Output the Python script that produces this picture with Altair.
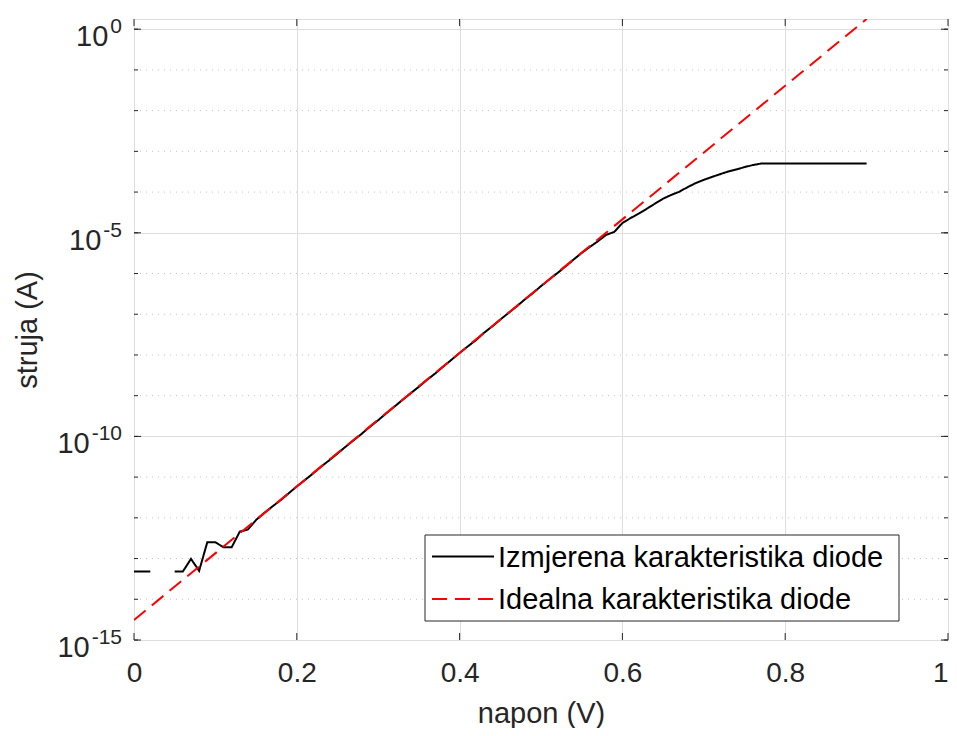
import altair as alt
import pandas as pd

# ---------------- data ----------------
voltage = [0.00, 0.01, 0.02, 0.03, 0.04, 0.05, 0.06, 0.07, 0.08, 0.09,
           0.10, 0.11, 0.12, 0.13, 0.14, 0.15, 0.16, 0.17, 0.18, 0.19,
           0.20, 0.21, 0.22, 0.23, 0.24, 0.25, 0.26, 0.27, 0.28, 0.29,
           0.30, 0.31, 0.32, 0.33, 0.34, 0.35, 0.36, 0.37, 0.38, 0.39,
           0.40, 0.41, 0.42, 0.43, 0.44, 0.45, 0.46, 0.47, 0.48, 0.49,
           0.50, 0.51, 0.52, 0.53, 0.54, 0.55, 0.56, 0.57, 0.58, 0.59,
           0.60, 0.61, 0.62, 0.63, 0.64, 0.65, 0.66, 0.67, 0.68, 0.69,
           0.70, 0.71, 0.72, 0.73, 0.74, 0.75, 0.76, 0.77, 0.78, 0.79,
           0.80, 0.81, 0.82, 0.83, 0.84, 0.85, 0.86, 0.87, 0.88, 0.89,
           0.90]
current = [4.8e-14, 4.8e-14, 4.8e-14, None, None, 4.8e-14, 4.8e-14, 9.8e-14, 5.0e-14, 2.5e-13,
           2.5e-13, 1.9e-13, 1.9e-13, 4.6e-13, 5.2e-13, 8.9e-13, 1.32e-12, 1.9e-12, 2.7e-12, 4.0e-12,
           5.9e-12, 8.5e-12, 1.23e-11, 1.82e-11, 2.6e-11, 3.8e-11, 5.6e-11, 8.1e-11, 1.17e-10, 1.74e-10,
           2.5e-10, 3.7e-10, 5.4e-10, 7.9e-10, 1.15e-9, 1.66e-9, 2.45e-9, 3.5e-9, 5.2e-9, 7.6e-9,
           1.12e-8, 1.62e-8, 2.3e-8, 3.5e-8, 5.0e-8, 7.4e-8, 1.07e-7, 1.55e-7, 2.3e-7, 3.3e-7,
           4.9e-7, 7.1e-7, 1.02e-6, 1.48e-6, 2.2e-6, 3.2e-6, 4.5e-6, 6.2e-6, 8.9e-6, 1.05e-5,
           1.74e-5, 2.3e-5, 2.95e-5, 3.9e-5, 5.2e-5, 6.9e-5, 8.5e-5, 1.02e-4, 1.32e-4, 1.66e-4,
           2.0e-4, 2.35e-4, 2.75e-4, 3.2e-4, 3.6e-4, 4.1e-4, 4.6e-4, 5.0e-4, 5.0e-4, 5.0e-4,
           5.0e-4, 5.0e-4, 5.0e-4, 5.0e-4, 5.0e-4, 5.0e-4, 5.0e-4, 5.0e-4, 5.0e-4, 5.0e-4,
           5.0e-4]
ideal_voltage = [0.0, 0.9]
ideal_current = [3.1e-15, 1.78]

series_names = ["Izmjerena karakteristika diode", "Idealna karakteristika diode"]
series_colors = ["#000000", "#ff0000"]
x_ticks = [0, 0.2, 0.4, 0.6, 0.8, 1.0]
y_major = [1e-15, 1e-10, 1e-5, 1e0]
y_major_exp = ["-15", "-10", "-5", "0"]
y_decades = [1e-15, 1e-14, 1e-13, 1e-12, 1e-11, 1e-10, 1e-9, 1e-8,
             1e-7, 1e-6, 1e-5, 1e-4, 1e-3, 1e-2, 1e-1, 1e0]
y_top = 1.78

# ---------------- tables ----------------
rows = []
seg = 0
for v, c in zip(voltage, current):
    if c is None:
        seg += 1
        continue
    rows.append({"V": v, "I": c, "series": series_names[0], "seg": f"m{seg}"})
for v, c in zip(ideal_voltage, ideal_current):
    rows.append({"V": v, "I": c, "series": series_names[1], "seg": "ideal"})
lines_df = pd.DataFrame(rows)

minor_df = pd.DataFrame({"d": [d for d in y_decades if d not in y_major]})
dec_df = pd.DataFrame({"d": y_decades})
major_df = pd.DataFrame({"d": y_major, "exp": y_major_exp})
xt_df = pd.DataFrame({"x": x_ticks})
leg_df = pd.DataFrame({"name": series_names, "row": [0, 1]})

W, H = 814, 621
FONT = "Liberation Sans"
TXT = "#262626"
DASH = [15, 8]

xs = alt.Scale(domain=[0, 1], nice=False, zero=False)
ys = alt.Scale(type="log", domain=[1e-15, y_top], nice=False)
cs = alt.Scale(domain=series_names, range=series_colors)
ds = alt.Scale(domain=series_names, range=[[1, 0], DASH])

lines = alt.Chart(lines_df).mark_line(clip=True, strokeWidth=2).encode(
    x=alt.X("V:Q", scale=xs,
            axis=alt.Axis(values=x_ticks, grid=True, gridColor="#dedede", gridWidth=1,
                          ticks=False, domain=False, format="~g",
                          labelFont=FONT, labelFontSize=28, labelColor=TXT,
                          labelAlign={"expr": "datum.value >= 1 ? 'right' : 'center'"},
                          labelPadding=19, labelOverlap=False, labelFlush=False,
                          title="napon (V)", titleFont=FONT, titleFontSize=29,
                          titleFontWeight="normal", titleColor=TXT, titlePadding=12)),
    y=alt.Y("I:Q", scale=ys,
            axis=alt.Axis(values=y_major, grid=True, gridColor="#dedede", gridWidth=1,
                          ticks=False, domain=False, labels=False,
                          title="struja (A)", titleFont=FONT, titleFontSize=29,
                          titleFontWeight="normal", titleColor=TXT, titlePadding=92)),
    color=alt.Color("series:N", scale=cs, legend=None),
    strokeDash=alt.StrokeDash("series:N", scale=ds, legend=None),
    detail="seg:N",
)

minor_grid = alt.Chart(minor_df).mark_rule(color="#c4c4c4", strokeWidth=1, strokeDash=[1, 5]).encode(
    y=alt.Y("d:Q", scale=ys), x=alt.value(0), x2=alt.value(W)
)

tick_style = dict(color=TXT, strokeWidth=1)
left_minor = alt.Chart(dec_df).mark_rule(**tick_style).encode(
    y=alt.Y("d:Q", scale=ys), x=alt.value(0), x2=alt.value(4))
right_minor = alt.Chart(dec_df).mark_rule(**tick_style).encode(
    y=alt.Y("d:Q", scale=ys), x=alt.value(W - 4), x2=alt.value(W))
left_major = alt.Chart(major_df).mark_rule(**tick_style).encode(
    y=alt.Y("d:Q", scale=ys), x=alt.value(0), x2=alt.value(7))
right_major = alt.Chart(major_df).mark_rule(**tick_style).encode(
    y=alt.Y("d:Q", scale=ys), x=alt.value(W - 7), x2=alt.value(W))
bottom_ticks = alt.Chart(xt_df).mark_rule(**tick_style).encode(
    x=alt.X("x:Q", scale=xs), y=alt.value(H), y2=alt.value(H - 7))
top_ticks = alt.Chart(xt_df).mark_rule(**tick_style).encode(
    x=alt.X("x:Q", scale=xs), y=alt.value(0), y2=alt.value(7))

EXP_SIZE = 21
BASE_SIZE = 29
exp_label = alt.Chart(major_df).mark_text(
    font=FONT, fontSize=EXP_SIZE, color=TXT, align="right", baseline="alphabetic", dy=4
).encode(y=alt.Y("d:Q", scale=ys), x=alt.value(-12), text="exp:N")

base_label = alt.Chart(major_df).transform_calculate(
    bx=f"-14 - (length(datum.exp) - (indexof(datum.exp, '-') >= 0 ? 1 : 0)) * {EXP_SIZE * 0.556}"
       f" - (indexof(datum.exp, '-') >= 0 ? {EXP_SIZE * 0.333} : 0)",
    base="'10'",
).mark_text(
    font=FONT, fontSize=BASE_SIZE, color=TXT, align="right", baseline="alphabetic", dy=17
).encode(y=alt.Y("d:Q", scale=ys), x=alt.X("bx:Q", scale=None), text="base:N")

# ---------------- legend (MATLAB style box) ----------------
LX0, LX1, LY0, LY1 = 291, 765, 516, 602
ROW0, ROWSTEP = 537.5, 42.5
leg_box = alt.Chart(leg_df.head(1)).mark_rect(fill="white", stroke=TXT, strokeWidth=1).encode(
    x=alt.value(LX0), x2=alt.value(LX1), y=alt.value(LY0), y2=alt.value(LY1))
leg_calc = dict(ly=f"{ROW0} + datum.row * {ROWSTEP}")
leg_sym = alt.Chart(leg_df).transform_calculate(**leg_calc).mark_rule(strokeWidth=2).encode(
    x=alt.value(LX0 + 7), x2=alt.value(LX0 + 69),
    y=alt.Y("ly:Q", scale=None),
    color=alt.Color("name:N", scale=cs, legend=None),
    strokeDash=alt.StrokeDash("name:N", scale=alt.Scale(domain=series_names, range=[[1, 0], [13, 7]]), legend=None),
)
leg_txt = alt.Chart(leg_df).transform_calculate(**leg_calc).mark_text(
    font=FONT, fontSize=29, color="#000000", align="left", baseline="middle", dy=1
).encode(x=alt.value(LX0 + 73), y=alt.Y("ly:Q", scale=None), text="name:N")

chart = alt.layer(
    minor_grid, lines, left_minor, right_minor, left_major, right_major,
    bottom_ticks, top_ticks, exp_label, base_label, leg_box, leg_sym, leg_txt,
).properties(
    width=W, height=H,
    padding={"left": 126, "top": 11, "right": 1, "bottom": 88},
    autosize=alt.AutoSizeParams(type="none"),
).configure_view(stroke=TXT, strokeWidth=1.6).configure(background="white")

chart.save("out.html", embed_options={"renderer": "svg", "actions": False})
